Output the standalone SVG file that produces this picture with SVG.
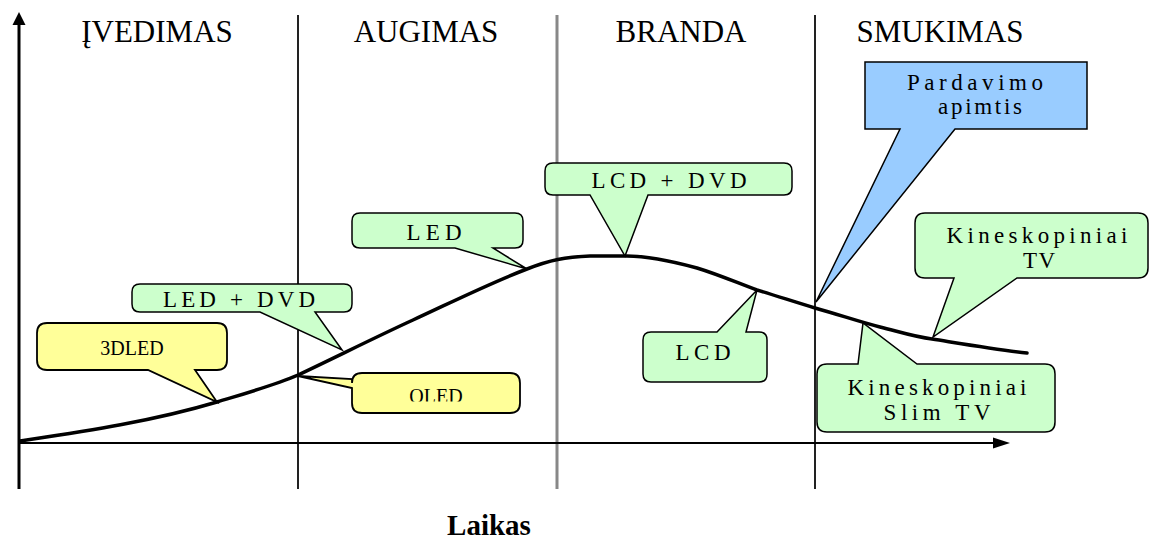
<svg xmlns="http://www.w3.org/2000/svg" width="1150" height="541" viewBox="0 0 1150 541">
  <style>
    .phase { font-family: "Liberation Serif", "Times New Roman", serif; font-size: 31px; fill: #000; text-anchor: middle; }
    .lbl { font-family: "Liberation Serif", "Times New Roman", serif; font-size: 23px; fill: #000; text-anchor: middle; }
    .lbl-y { font-family: "Liberation Serif", "Times New Roman", serif; font-size: 20px; fill: #000; text-anchor: middle; }
    .green { fill: #CCFFCC; stroke: #000; stroke-width: 1.5; stroke-linejoin: miter; }
    .yellow { fill: #FFFF99; stroke: #000; stroke-width: 1.8; }
    .blue { fill: #99CCFF; stroke: #000; stroke-width: 1.5; }
    .axis { stroke: #000; fill: none; }
  </style>
  <defs>
    <clipPath id="oled-clip">
      <rect x="352" y="373" width="168" height="28.5"/>
    </clipPath>
  </defs>

  <rect width="1150" height="541" fill="#fff"/>

  <!-- phase headings -->
  <g id="headings">
    <text class="phase" x="157" y="42">ĮVEDIMAS</text>
    <text class="phase" x="426" y="42">AUGIMAS</text>
    <text class="phase" x="681" y="42">BRANDA</text>
    <text class="phase" x="940" y="42">SMUKIMAS</text>
  </g>

  <!-- phase dividers and axes -->
  <g id="axes">
    <line x1="298" y1="15" x2="298" y2="489" stroke="#222" stroke-width="2"/>
    <line x1="557" y1="15" x2="557" y2="489" stroke="#888" stroke-width="3"/>
    <line x1="815" y1="15" x2="815" y2="489" stroke="#222" stroke-width="2"/>
    <line class="axis" x1="19" y1="489" x2="19" y2="22" stroke-width="3"/>
    <polygon points="19,12 12.5,25 25.5,25" fill="#000"/>
    <line class="axis" x1="19" y1="443" x2="996" y2="443" stroke-width="2"/>
    <polygon points="1010,443 993,437.5 993,448.5" fill="#000"/>
  </g>

  <!-- sales curve -->
  <g id="connectors">
    <path d="M20,441 C80,432 150,422 217,402 C250,392 275,385 298,375 C330,360 380,335 413,320 C450,303 490,283 527,269 C550,260 565,257 590,256 L627,256 C650,256 675,262 697,268 C720,275 740,284 757,290 C780,297 795,302 815,308 C840,315 860,322 880,327 C900,332 915,337 932,339 C970,345 1000,350 1027,353" fill="none" stroke="#000" stroke-width="3.5" stroke-linecap="round" stroke-linejoin="round"/>
  </g>

  <g id="c-3dled">
    <path class="yellow" d="M47,323 H217 Q227,323 227,333 V360 Q227,370 217,370 H195 L217,402 L148,370 H47 Q37,370 37,360 V333 Q37,323 47,323 Z"/>
    <text class="lbl-y" x="132" y="355">3DLED</text>
  </g>

  <g id="c-oled">
    <path class="yellow" d="M362,373 H510 Q520,373 520,383 V403 Q520,413 510,413 H362 Q352,413 352,403 V388 L298,376 L352,379 V383 Q352,373 362,373 Z"/>
    <text class="lbl-y" x="436" y="403" clip-path="url(#oled-clip)">OLED</text>
  </g>

  <g id="c-led-dvd">
    <path class="green" d="M140,284 H344 Q352,284 352,292 V304 Q352,312 344,312 H315 L342,350 L260,312 H140 Q132,312 132,304 V292 Q132,284 140,284 Z"/>
    <text class="lbl" x="239" y="307" textLength="152" lengthAdjust="spacing">LED + DVD</text>
  </g>

  <g id="c-led">
    <path class="green" d="M360,213 H515 Q523,213 523,221 V240 Q523,248 515,248 H493 L527,269 L455,248 H360 Q352,248 352,240 V221 Q352,213 360,213 Z"/>
    <text class="lbl" x="434" y="240" textLength="55" lengthAdjust="spacing">LED</text>
  </g>

  <g id="c-lcd-dvd">
    <path class="green" d="M553,163 H784 Q792,163 792,171 V187 Q792,195 784,195 H648 L625,256 L590,195 H553 Q545,195 545,187 V171 Q545,163 553,163 Z"/>
    <text class="lbl" x="669" y="188" textLength="155" lengthAdjust="spacing">LCD + DVD</text>
  </g>

  <g id="c-lcd">
    <path class="green" d="M651,332 H717 L757,290 L746,332 H759 Q767,332 767,340 V374 Q767,382 759,382 H651 Q643,382 643,374 V340 Q643,332 651,332 Z"/>
    <text class="lbl" x="703" y="360" textLength="55" lengthAdjust="spacing">LCD</text>
  </g>

  <g id="c-sales">
    <path class="blue" d="M865,62 H1087 V129 H955 L816,302 L900,129 H865 Z"/>
    <text class="lbl" x="975" y="90" textLength="136" lengthAdjust="spacing">Pardavimo</text>
    <text class="lbl" x="980" y="114" textLength="84" lengthAdjust="spacing">apimtis</text>
  </g>

  <g id="c-crt-tv">
    <path class="green" d="M925,213 H1138 Q1148,213 1148,223 V268 Q1148,278 1138,278 H1017 L933,337 L954,278 H925 Q915,278 915,268 V223 Q915,213 925,213 Z"/>
    <text class="lbl" x="1037" y="243" textLength="181" lengthAdjust="spacing">Kineskopiniai</text>
    <text class="lbl" x="1039" y="268" textLength="32" lengthAdjust="spacing">TV</text>
  </g>

  <g id="c-crt-slim">
    <path class="green" d="M827,364 H858 L863,323 L917,364 H1045 Q1055,364 1055,374 V422 Q1055,432 1045,432 H827 Q817,432 817,422 V374 Q817,364 827,364 Z"/>
    <text class="lbl" x="937" y="395" textLength="179" lengthAdjust="spacing">Kineskopiniai</text>
    <text class="lbl" x="937" y="420" textLength="107" lengthAdjust="spacing">Slim TV</text>
  </g>

  <!-- time axis caption -->
  <text id="time-label" x="489" y="535" font-family="'Liberation Serif', 'Times New Roman', serif" font-size="29" font-weight="bold" text-anchor="middle">Laikas</text>
</svg>
